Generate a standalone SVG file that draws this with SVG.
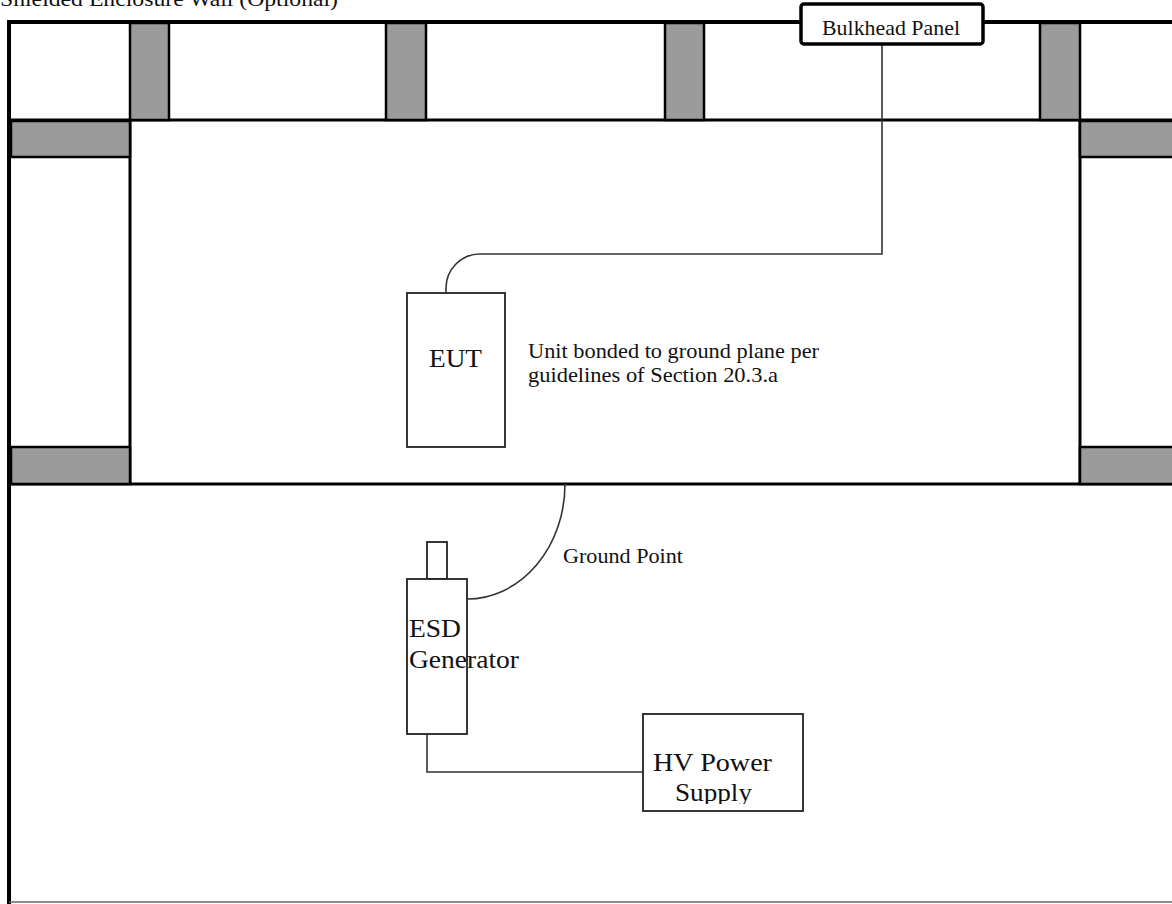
<svg xmlns="http://www.w3.org/2000/svg" width="1172" height="904" viewBox="0 0 1172 904">
<style>
.wall{stroke:#000;stroke-width:3;fill:none}
.pillar{fill:#9b9b9b;stroke:#000;stroke-width:2.5}
.box{fill:#fff;stroke:#222;stroke-width:1.8}
.wire{fill:none;stroke:#333;stroke-width:1.6}
.t{font-family:"Liberation Serif","Times New Roman",serif;fill:#111}
</style>
<defs>
<clipPath id="hvclip"><rect x="643" y="714" width="160" height="90"/></clipPath>
</defs>
<rect width="1172" height="904" fill="#fff"/>
<text class="t" x="0" y="6" font-size="22" textLength="338" lengthAdjust="spacingAndGlyphs">Shielded Enclosure Wall (Optional)</text>
<g id="enclosure">
<line x1="9" y1="20" x2="9" y2="904" stroke="#000" stroke-width="4"/>
<line x1="7" y1="22" x2="1172" y2="22" stroke="#000" stroke-width="4"/>
<line x1="9" y1="902" x2="1172" y2="902" stroke="#666" stroke-width="1.5"/>
<line class="wall" x1="9" y1="120" x2="1172" y2="120"/>
<line class="wall" x1="9" y1="484" x2="1172" y2="484"/>
<line class="wall" x1="130" y1="120" x2="130" y2="484"/>
<line class="wall" x1="1080" y1="120" x2="1080" y2="484"/>
<rect class="pillar" x="130" y="23" width="39" height="97"/>
<rect class="pillar" x="386" y="23" width="40" height="97"/>
<rect class="pillar" x="665" y="23" width="39" height="97"/>
<rect class="pillar" x="1040" y="23" width="40" height="97"/>
<rect class="pillar" x="11" y="121" width="119" height="36"/>
<rect class="pillar" x="11" y="447" width="119" height="37"/>
<rect class="pillar" x="1080" y="121" width="94" height="36"/>
<rect class="pillar" x="1080" y="447" width="94" height="37"/>
</g>
<g id="connectors">
<path class="wire" d="M446,293 L446,288 A34,34 0 0 1 480,254 L882,254 L882,43"/>
<path class="wire" d="M565,484 A98,115 0 0 1 467,599"/>
<path class="wire" d="M427,734 L427,772 L643,772"/>
</g>
<g id="bulkhead">
<rect x="801" y="4" width="182" height="40" rx="3" fill="#fff" stroke="#000" stroke-width="3.5"/>
<text class="t" x="822" y="35" font-size="21" textLength="138" lengthAdjust="spacingAndGlyphs">Bulkhead Panel</text>
</g>
<g id="eut">
<rect class="box" x="407" y="293" width="98" height="154"/>
<text class="t" x="429" y="367" font-size="26" textLength="53" lengthAdjust="spacingAndGlyphs">EUT</text>
</g>
<g id="note">
<text class="t" x="528" y="358" font-size="21" textLength="291" lengthAdjust="spacingAndGlyphs">Unit bonded to ground plane per</text>
<text class="t" x="528" y="382" font-size="21" textLength="250" lengthAdjust="spacingAndGlyphs">guidelines of Section 20.3.a</text>
</g>
<g id="ground-label">
<text class="t" x="563" y="563" font-size="21" textLength="120" lengthAdjust="spacingAndGlyphs">Ground Point</text>
</g>
<g id="esd">
<rect class="box" x="427" y="542" width="20" height="37"/>
<rect class="box" x="407" y="579" width="60" height="155"/>
<text class="t" x="409" y="637" font-size="26" textLength="52" lengthAdjust="spacingAndGlyphs">ESD</text>
<text class="t" x="409" y="668" font-size="26" textLength="110" lengthAdjust="spacingAndGlyphs">Generator</text>
</g>
<g id="hv">
<rect class="box" x="643" y="714" width="160" height="97"/>
<g clip-path="url(#hvclip)">
<text class="t" x="653" y="771" font-size="26" textLength="119" lengthAdjust="spacingAndGlyphs">HV Power</text>
<text class="t" x="675" y="801" font-size="26" textLength="77" lengthAdjust="spacingAndGlyphs">Supply</text>
</g>
</g>
</svg>
